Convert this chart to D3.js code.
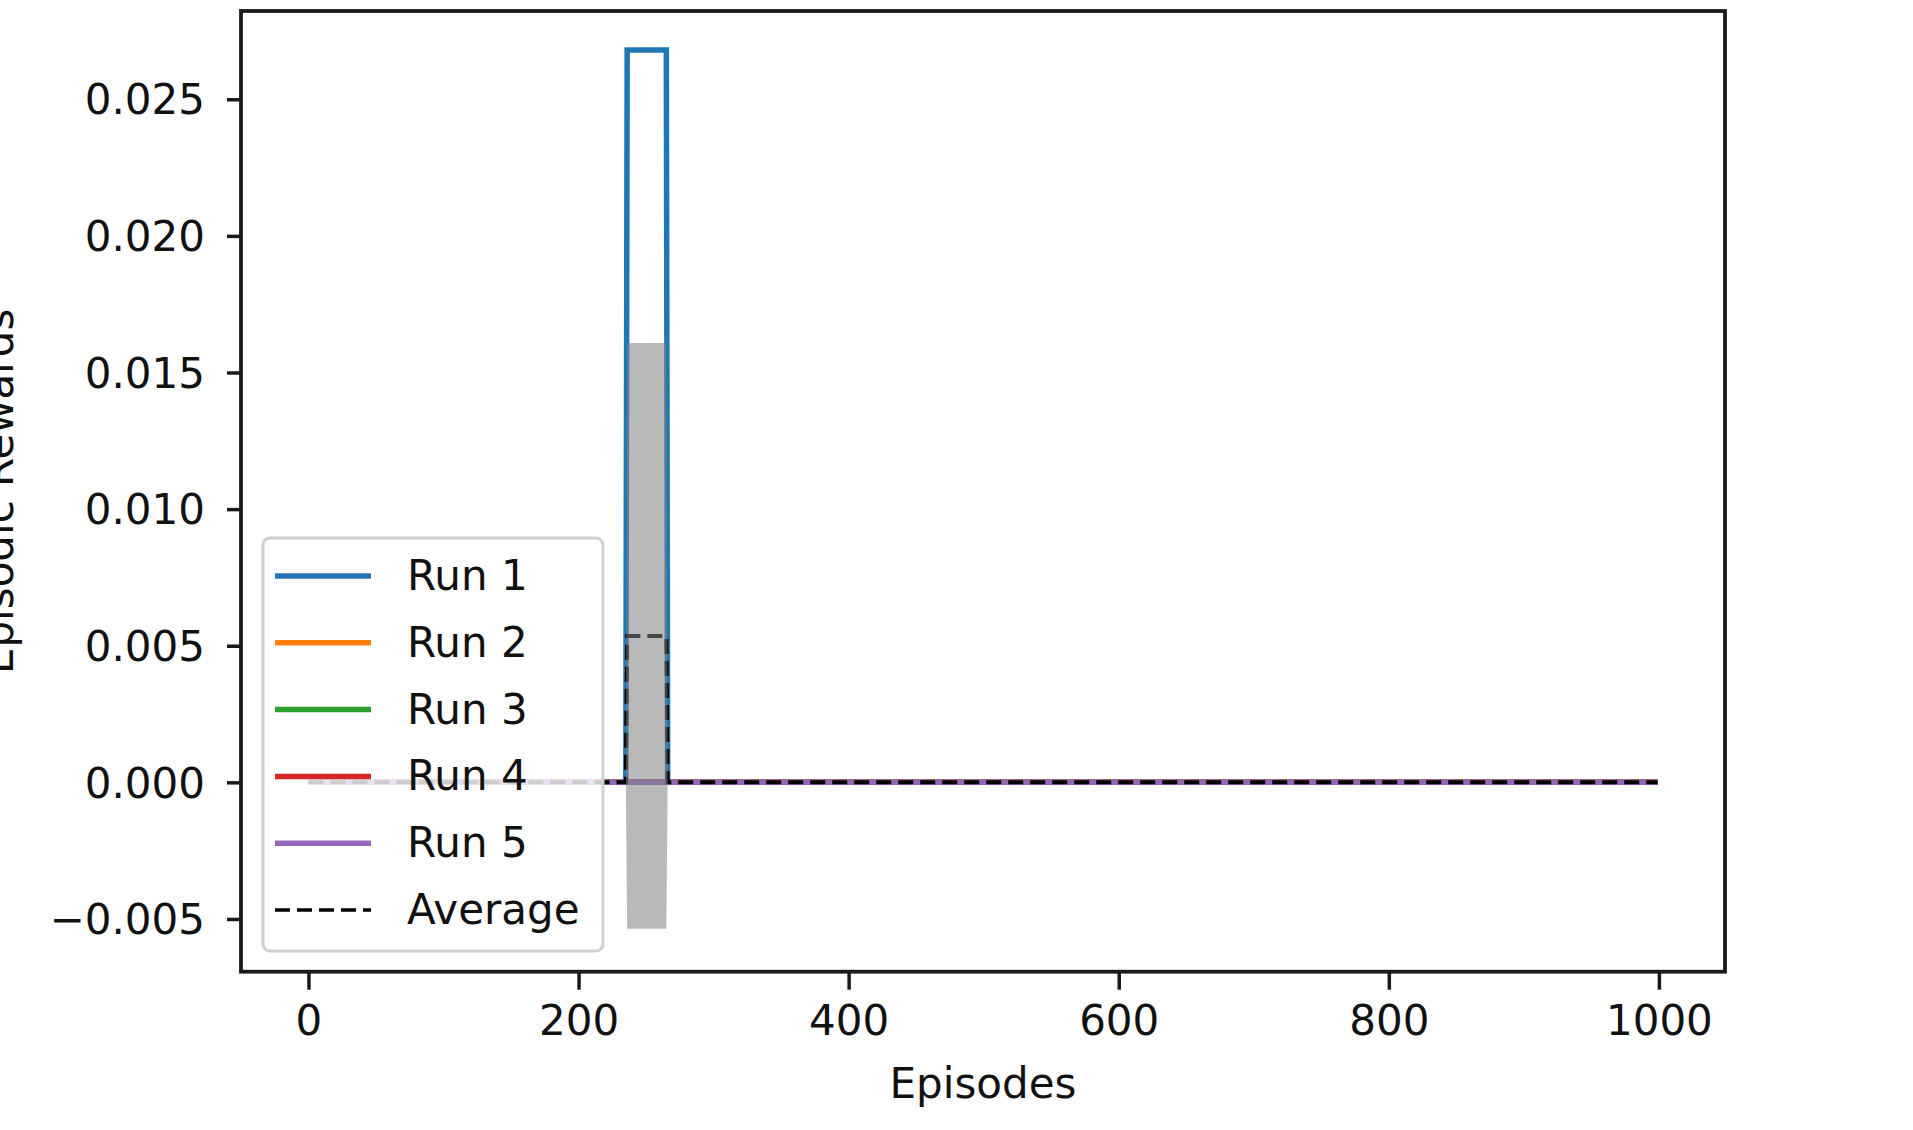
<!DOCTYPE html>
<html>
<head>
<meta charset="utf-8">
<script src="https://cdn.jsdelivr.net/npm/d3@7"></script>
<style>
  html, body { margin: 0; padding: 0; background: #fff; }
  svg { display: block; }
  text { font-family: "DejaVu Sans", sans-serif; fill: #111; }
</style>
</head>
<body>
<svg id="chart" width="1913" height="1130"></svg>
<script>
// ---- data ----
const episodes = [0, 235, 236, 265, 266, 999];
const run1 = [0, 0, 0.0268, 0.0268, 0, 0];
const run2 = [0, 0, 0, 0, 0, 0];
const run3 = [0, 0, 0, 0, 0, 0];
const run4 = [0, 0, 0, 0, 0, 0];
const run5 = [0, 0, 0, 0, 0, 0];
const average = [0, 0, 0.00536, 0.00536, 0, 0];
const bandLower = [0, 0, -0.00536, -0.00536, 0, 0];
const bandUpper = [0, 0, 0.01608, 0.01608, 0, 0];
const runNames = ["Run 1", "Run 2", "Run 3", "Run 4", "Run 5"];
const runColors = ["#1f77b4", "#ff7f0e", "#2ca02c", "#d62728", "#9467bd"];
const xTicks = [0, 200, 400, 600, 800, 1000];
const yTicks = [-0.005, 0, 0.005, 0.010, 0.015, 0.020, 0.025];
const xLabel = "Episodes";
const yLabel = "Episodic Rewards";

// ---- layout ----
const L = 241, R = 1725, T = 11, B = 971.7;
const FS = 42;
const svg = d3.select("#chart");

const x = d3.scaleLinear().domain([-49.95, 1048.95]).range([L, R]);
const y = d3.scaleLinear().domain([-0.00693, 0.02823]).range([B, T]);

const plot = svg.append("g");
const line = vals => d3.line().x((d, i) => x(episodes[i])).y(d => y(d))(vals);

const runs = [run1, run2, run3, run4, run5];
runs.forEach((r, k) => {
  plot.append("path").attr("d", line(r)).attr("fill", "none")
    .attr("stroke", runColors[k]).attr("stroke-width", 5.5);
});
plot.append("path").attr("d", line(average)).attr("fill", "none")
  .attr("stroke", "#000").attr("stroke-width", 4).attr("stroke-dasharray", "15,7");

const area = d3.area().x((d, i) => x(episodes[i]))
  .y0((d, i) => y(bandLower[i])).y1((d, i) => y(bandUpper[i]));
plot.append("path").attr("d", area(episodes)).attr("fill", "#808080").attr("fill-opacity", 0.55);

// ---- axes ----
const xAxis = svg.append("g").attr("transform", `translate(0,${B})`)
  .call(d3.axisBottom(x).tickValues(xTicks).tickSize(18).tickPadding(8).tickFormat(d3.format("d")));
const yAxis = svg.append("g").attr("transform", `translate(${L},0)`)
  .call(d3.axisLeft(y).tickValues(yTicks).tickSize(14).tickPadding(22).tickFormat(d3.format(".3f")));
[xAxis, yAxis].forEach(a => {
  a.select(".domain").remove();
  a.selectAll(".tick line").attr("stroke", "#1a1a1a").attr("stroke-width", 3.5);
  a.selectAll(".tick text").attr("font-size", FS).attr("font-family", "DejaVu Sans").attr("fill", "#111");
});
xAxis.selectAll(".tick text").attr("dy", null).attr("y", 63);
yAxis.selectAll(".tick text").attr("dy", "0.35em");

svg.append("rect").attr("x", L).attr("y", T).attr("width", R - L).attr("height", B - T)
  .attr("fill", "none").attr("stroke", "#1a1a1a").attr("stroke-width", 3.8);

svg.append("text").attr("x", (L + R) / 2).attr("y", 1098).attr("text-anchor", "middle")
  .attr("font-size", FS).text(xLabel);
svg.append("text").attr("transform", `translate(13,${(T + B) / 2}) rotate(-90)`)
  .attr("text-anchor", "middle").attr("font-size", FS).text(yLabel);

// ---- legend ----
const lg = svg.append("g");
lg.append("rect").attr("x", 263).attr("y", 538).attr("width", 340).attr("height", 413)
  .attr("rx", 7).attr("fill", "#fff").attr("fill-opacity", 0.8)
  .attr("stroke", "#d0d0d0").attr("stroke-width", 3);
const rowY = i => 576 + i * 66.8;
runNames.forEach((n, i) => {
  lg.append("line").attr("x1", 275).attr("x2", 371).attr("y1", rowY(i)).attr("y2", rowY(i))
    .attr("stroke", runColors[i]).attr("stroke-width", 5.5);
  lg.append("text").attr("x", 407).attr("y", rowY(i) + 14).attr("font-size", FS).text(n);
});
lg.append("line").attr("x1", 275).attr("x2", 371).attr("y1", rowY(5)).attr("y2", rowY(5))
  .attr("stroke", "#000").attr("stroke-width", 3.5).attr("stroke-dasharray", "15,7");
lg.append("text").attr("x", 407).attr("y", rowY(5) + 14).attr("font-size", FS).text("Average");
</script>
</body>
</html>
